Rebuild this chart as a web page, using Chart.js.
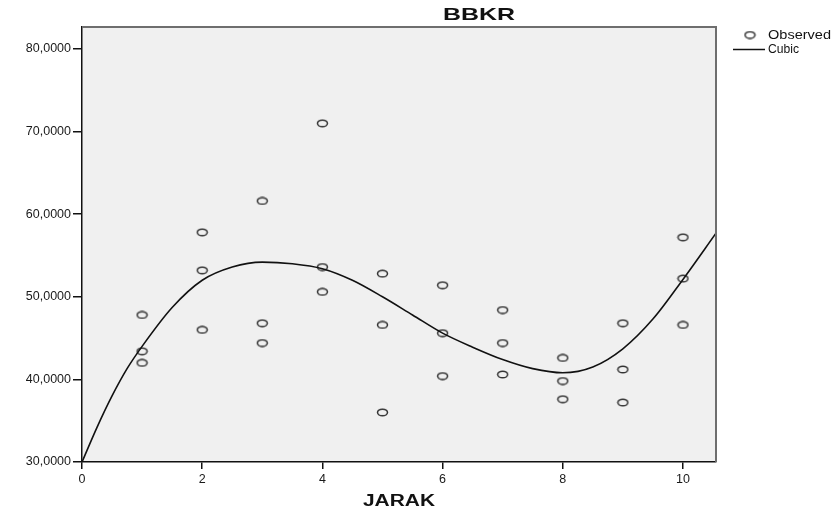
<!DOCTYPE html>
<html>
<head>
<meta charset="utf-8">
<script src="https://cdn.jsdelivr.net/npm/chart.js@4/dist/chart.umd.min.js"></script>
<style>
  html, body { margin: 0; padding: 0; background: #ffffff; }
  #wrap { width: 840px; height: 513px; position: relative; }
</style>
</head>
<body>
<div id="wrap"><canvas id="c" width="840" height="513"></canvas></div>
<script>
// ---- data ----
const chartTitle = 'BBKR';
const xAxisTitle = 'JARAK';
const jarak = [1,1,1, 2,2,2, 3,3,3, 4,4,4, 5,5,5, 6,6,6, 7,7,7, 8,8,8, 9,9,9, 10,10,10];
const bbkr  = [47.8,43.4,42.0, 57.8,53.2,46.0, 61.6,46.8,44.4, 71.0,53.6,50.6, 52.8,46.6,36.0,
               51.4,45.6,40.4, 48.4,44.4,40.6, 42.6,39.8,37.6, 46.8,41.2,37.2, 57.2,52.2,46.6];
const cubicX = [0, 0.25, 0.5, 0.75, 1, 1.5, 2, 2.5, 3, 3.5, 4, 4.5, 5, 5.5, 6, 6.5, 7, 7.5, 8, 8.5, 9, 9.5, 10, 10.55];
const cubicY = [30.0, 34.2, 38.0, 41.3, 44.0, 48.7, 52.0, 53.6, 54.2, 54.0, 53.4, 52.0, 50.0, 47.8, 45.6, 43.9, 42.4, 41.3, 40.8, 41.5, 43.7, 47.3, 52.1, 57.7];
const xTicks = [0, 2, 4, 6, 8, 10];
const yTicks = [30, 40, 50, 60, 70, 80];
const seriesNames = ['Observed', 'Cubic'];

// ---- point style: small open ellipse ----
function makeMarker() {
  const c = document.createElement('canvas');
  c.width = 13; c.height = 9;
  const g = c.getContext('2d');
  g.strokeStyle = '#333';
  g.lineWidth = 1.5;
  g.beginPath();
  g.ellipse(6.5, 4.5, 5.0, 3.3, 0, 0, Math.PI * 2);
  g.stroke();
  return c;
}
const marker = makeMarker();

function stretchText(ctx, text, x, y, font, width, align) {
  ctx.save();
  ctx.font = font;
  const w = ctx.measureText(text).width;
  const s = width / w;
  ctx.translate(x, y);
  ctx.scale(s, 1);
  ctx.textAlign = align;
  ctx.textBaseline = 'middle';
  ctx.fillStyle = '#111';
  ctx.fillText(text, 0, 0);
  ctx.restore();
}

const decor = {
  id: 'decor',
  beforeDraw(chart) {
    const { ctx, chartArea: a } = chart;
    ctx.save();
    ctx.fillStyle = '#f0f0f0';
    ctx.fillRect(a.left, a.top, a.right - a.left, a.bottom - a.top);
    ctx.restore();
  },
  afterDraw(chart) {
    const { ctx, chartArea: a } = chart;
    ctx.save();
    ctx.strokeStyle = '#6e6e6e';
    ctx.lineWidth = 2;
    ctx.beginPath();
    ctx.moveTo(a.left, a.top);
    ctx.lineTo(a.right, a.top);
    ctx.lineTo(a.right, a.bottom);
    ctx.stroke();
    ctx.restore();

    stretchText(ctx, chartTitle, 479, 15, 'bold 17px "Liberation Sans"', 72, 'center');
    stretchText(ctx, xAxisTitle, (a.left + a.right) / 2, 502, 'bold 16px "Liberation Sans"', 72, 'center');

    const ds = chart.data.datasets;
    ctx.save();
    ctx.drawImage(marker, 750 - 6.5, 35 - 4.5);
    ctx.strokeStyle = '#111';
    ctx.lineWidth = 1.5;
    ctx.beginPath();
    ctx.moveTo(733, 49.5);
    ctx.lineTo(765, 49.5);
    ctx.stroke();
    ctx.restore();
    stretchText(ctx, ds[0].label, 768, 35.5, '12.5px "Liberation Sans"', 63, 'left');
    stretchText(ctx, ds[1].label, 768, 50, '12.5px "Liberation Sans"', 31, 'left');
  }
};

Chart.defaults.font.family = '"Liberation Sans"';
Chart.defaults.font.size = 12.5;
Chart.defaults.color = '#1a1a1a';

new Chart(document.getElementById('c'), {
  type: 'scatter',
  data: {
    datasets: [
      {
        label: seriesNames[0],
        data: jarak.map((x, i) => ({ x: x, y: bbkr[i] })),
        pointStyle: marker,
        pointRadius: 5,
        showLine: false,
        order: 2
      },
      {
        label: seriesNames[1],
        type: 'line',
        data: cubicX.map((x, i) => ({ x: x, y: cubicY[i] })),
        borderColor: '#111',
        borderWidth: 1.6,
        pointRadius: 0,
        fill: false,
        cubicInterpolationMode: 'monotone',
        order: 1
      }
    ]
  },
  options: {
    responsive: false,
    animation: false,
    devicePixelRatio: 1,
    layout: { padding: { left: 0, right: 124, top: 27, bottom: 0 } },
    plugins: {
      legend: { display: false },
      title: { display: false },
      tooltip: { enabled: false }
    },
    scales: {
      x: {
        type: 'linear',
        min: 0,
        max: 10.55,
        afterBuildTicks: s => { s.ticks = xTicks.map(v => ({ value: v })); },
        afterFit: s => { s.height = 51; },
        ticks: { autoSkip: false, maxRotation: 0, padding: 3, callback: v => String(v), color: '#1a1a1a' },
        grid: { drawOnChartArea: false, drawTicks: true, tickLength: 7, color: '#111', lineWidth: 1.5 },
        border: { display: true, color: '#111', width: 1.5 }
      },
      y: {
        type: 'linear',
        min: 30,
        max: 82.66,
        afterBuildTicks: s => { s.ticks = yTicks.map(v => ({ value: v })); },
        afterFit: s => { s.width = 82; },
        ticks: { autoSkip: false, padding: 2, callback: v => v.toFixed(4).replace('.', ','), color: '#1a1a1a' },
        grid: { drawOnChartArea: false, drawTicks: true, tickLength: 9, color: '#111', lineWidth: 1.5 },
        border: { display: true, color: '#111', width: 1.5 }
      }
    }
  },
  plugins: [decor]
});
</script>
</body>
</html>
